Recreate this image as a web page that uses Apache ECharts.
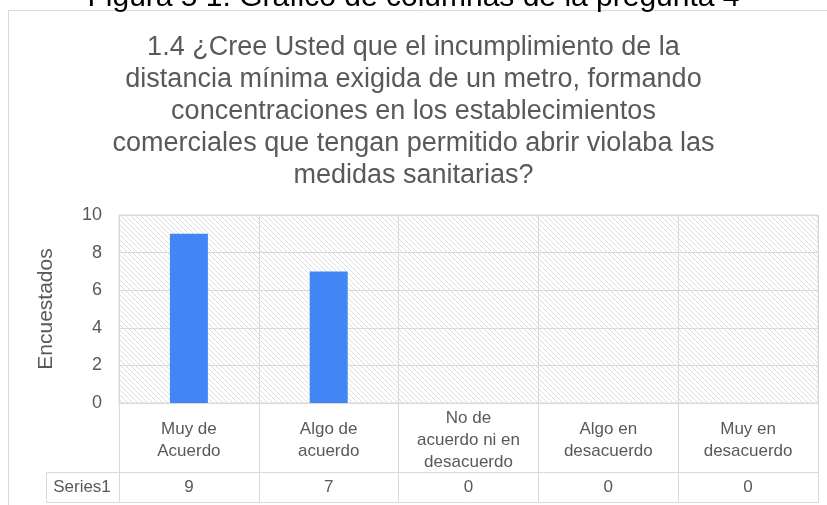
<!DOCTYPE html>
<html>
<head>
<meta charset="utf-8">
<script src="https://cdn.jsdelivr.net/npm/echarts@6/dist/echarts.min.js"></script>
<style>
    html, body { margin: 0; padding: 0; background: #fff; }
    #chart { width: 827px; height: 505px; }
</style>
</head>
<body>
<div id="chart"></div>
<script>
    // datos de la pregunta 1.4
    var caption = 'Figura 5 1. Gráfico de columnas de la pregunta 4';
    var titleText = '1.4 ¿Cree Usted que el incumplimiento de la\ndistancia mínima exigida de un metro, formando\nconcentraciones en los establecimientos\ncomerciales que tengan permitido abrir violaba las\nmedidas sanitarias?';
    var categories = ['Muy de\nAcuerdo', 'Algo de\nacuerdo', 'No de\nacuerdo ni en\ndesacuerdo', 'Algo en\ndesacuerdo', 'Muy en\ndesacuerdo'];
    var seriesName = 'Series1';
    var values = [9, 7, 0, 0, 0];
    var yTicks = [0, 2, 4, 6, 8, 10];

    var font = 'Liberation Sans, Arial, sans-serif';
    var lineColor = '#d9d9d9';
    var textColor = '#595959';

    // trama diagonal del area del grafico
    function hatch() {
        var s = 5;
        var c = document.createElement('canvas');
        c.width = s;
        c.height = s;
        var ctx = c.getContext('2d');
        ctx.fillStyle = '#fff';
        ctx.fillRect(0, 0, s, s);
        ctx.strokeStyle = '#d6d6d6';
        ctx.lineWidth = 0.8;
        for (var k = -1; k <= 1; k++) {
            ctx.beginPath();
            ctx.moveTo(k * s, 0);
            ctx.lineTo(k * s + s, s);
            ctx.stroke();
        }
        return c;
    }

    var chart = echarts.init(document.getElementById('chart'));
    var option = {
        animation: false,
        backgroundColor: '#fff',
        textStyle: { fontFamily: font },
        title: [
            {
                text: caption,
                left: 'center',
                top: -22,
                textStyle: { color: '#000', fontSize: 30, fontWeight: 'normal', fontFamily: font }
            },
            {
                text: titleText,
                left: 'center',
                top: 27,
                textStyle: { color: textColor, fontSize: 27, fontWeight: 'normal', lineHeight: 32, fontFamily: font }
            }
        ],
        grid: {
            left: 119,
            right: 9,
            top: 215,
            bottom: 102,
            show: true,
            backgroundColor: { image: hatch(), repeat: 'repeat' },
            borderColor: lineColor,
            borderWidth: 1
        },
        xAxis: [
            {
                type: 'category',
                data: categories,
                axisLine: { show: true, lineStyle: { color: lineColor } },
                axisTick: { show: true, length: 99, interval: 0, lineStyle: { color: lineColor } },
                splitLine: { show: true, interval: 0, lineStyle: { color: lineColor } },
                axisLabel: {
                    interval: 0,
                    color: textColor,
                    fontSize: 17,
                    lineHeight: 22,
                    margin: 37,
                    verticalAlign: 'middle',
                    fontFamily: font
                }
            },
            {
                type: 'category',
                position: 'bottom',
                offset: 69,
                data: values.map(String),
                axisLine: { show: true, lineStyle: { color: lineColor } },
                axisTick: { show: false },
                axisLabel: {
                    interval: 0,
                    color: textColor,
                    fontSize: 17,
                    margin: 15,
                    verticalAlign: 'middle',
                    fontFamily: font
                }
            },
            {
                type: 'category',
                position: 'bottom',
                offset: 99,
                data: categories,
                axisLine: { show: true, lineStyle: { color: lineColor } },
                axisTick: { show: false },
                axisLabel: { show: false }
            }
        ],
        yAxis: {
            type: 'value',
            min: yTicks[0],
            max: yTicks[yTicks.length - 1],
            interval: yTicks[1] - yTicks[0],
            name: 'Encuestados',
            nameLocation: 'middle',
            nameGap: 62,
            nameRotate: 90,
            nameTextStyle: { color: textColor, fontSize: 21, fontFamily: font },
            axisLine: { show: false },
            axisTick: { show: false },
            axisLabel: { color: textColor, fontSize: 18, margin: 17, fontFamily: font },
            splitLine: { show: true, lineStyle: { color: lineColor } }
        },
        series: [
            {
                name: seriesName,
                type: 'bar',
                data: values,
                barWidth: 38,
                itemStyle: { color: '#4285f4' }
            }
        ],
        graphic: [
            {
                type: 'rect',
                shape: { x: 8.5, y: 10.5, width: 900, height: 600 },
                style: { fill: 'none', stroke: lineColor, lineWidth: 1 },
                silent: true
            },
            {
                type: 'rect',
                shape: { x: 46.5, y: 472.5, width: 73, height: 30 },
                style: { fill: 'none', stroke: lineColor, lineWidth: 1 },
                silent: true
            },
            {
                type: 'text',
                x: 82,
                y: 487,
                style: {
                    text: seriesName,
                    fill: textColor,
                    font: '17px ' + font,
                    textAlign: 'center',
                    textVerticalAlign: 'middle'
                },
                silent: true
            }
        ]
    };
    chart.setOption(option);
</script>
</body>
</html>
